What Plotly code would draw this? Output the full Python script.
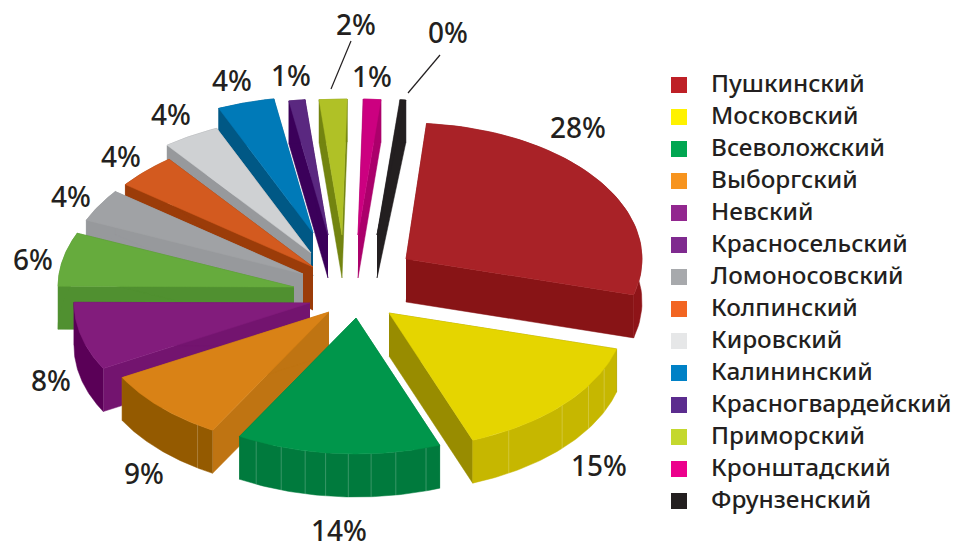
import numpy as np
import plotly.graph_objects as go

# --- data ---
districts = ["Пушкинский", "Московский", "Всеволожский", "Выборгский", "Невский",
             "Красносельский", "Ломоносовский", "Колпинский", "Кировский", "Калининский",
             "Красногвардейский", "Приморский", "Кронштадский", "Фрунзенский"]
shares = [27.9, 15.0, 14.0, 8.8, 8.1, 6.4, 3.9, 4.2, 3.9, 3.9, 1.1, 1.9, 1.2, 0.4]

# --- colours ---
legend_colors = ["#BE2026", "#FFF200", "#00A651", "#F7941E", "#92278F", "#7F2A8F", "#A7A9AC",
                 "#F26522", "#E6E7E8", "#0081C6", "#5B2C8E", "#C4D82E", "#EC008C", "#231F20"]
top_colors = ["#A92227", "#E5D500", "#00964B", "#D98216", "#821C7C", "#66AB3D", "#A0A2A5",
              "#D35A1F", "#CFD1D3", "#007AB8", "#5A2880", "#B0C126", "#CC0080", "#231F20"]
radial_colors = ["#881416", "#988C00", "#007A3D", "#BF7412", "#73146F", "#509030", "#97999C",
                 "#9B3C09", "#97999C", "#005885", "#3B005A", "#738410", "#AB006B", "#231F20"]
arc_colors = ["#8E1418", "#C6B700", "#007A3D", "#945A00", "#5A0057", "#509030", "#97999C",
              "#9B3C09", "#97999C", "#005885", "#3B005A", "#738410", "#AB006B", "#231F20"]

# --- layout of the exploded 3-D look (pixels) ---
apexes = [(406, 259), (389, 313), (356, 318), (329, 312), (310, 303), (294, 287), (303, 274),
          (313, 267), (311, 253), (313, 233), (328, 235), (342, 235), (358, 235), (377, 235)]
facet_fractions = [[], [0.166, 0.315, 0.51, 0.82], [0.07, 0.22, 0.34, 0.45, 0.56, 0.66, 0.78, 0.91],
                   [0.136], [], [], [], [], [], [], [], [], [], []]
RX, RY, DEPTH = 236, 136, 43
START_DEG = 5.0
FULL_TURN_DEG = 362.0
label_xy = [(578, 131), (599, 469), (339, 534), (144, 477), (51, 384), (33, 263), (71, 200),
            (121, 160), (171, 118), (232, 84), (291, 79), (356, 28), (372, 80), (448, 36)]
leaders = [((351, 41), (331, 89)), ((440, 55), (408, 93))]
LEGEND_SWATCH_X, LEGEND_TEXT_X, LEGEND_TOP, LEGEND_STEP = 679, 711, 85, 32

TEXT = "#231F20"
FONT = "Noto Sans"

fig = go.Figure()
total = sum(shares)


def poly(xs, ys, color):
    fig.add_trace(go.Scatter(x=list(xs), y=list(ys), mode="lines", fill="toself", fillcolor=color,
                             line=dict(color=color, width=0.5), hoverinfo="skip", showlegend=False))


sweeps = [v / total * FULL_TURN_DEG for v in shares]
starts = START_DEG + np.concatenate([[0], np.cumsum(sweeps)[:-1]])

# painted from the last district back to the first, so each slice covers its neighbour's wall
for i in range(len(shares) - 1, -1, -1):
    a0 = np.radians(starts[i])
    a1 = np.radians(starts[i] + sweeps[i])
    ax, ay = apexes[i]
    t = np.linspace(a0, a1, 60)
    ex = ax + RX * np.sin(t)
    ey = ay - RY * np.cos(t)
    # radial walls
    poly([ax, ex[0], ex[0], ax], [ay, ey[0], ey[0] + DEPTH, ay + DEPTH], radial_colors[i])
    poly([ax, ex[-1], ex[-1], ax], [ay, ey[-1], ey[-1] + DEPTH, ay + DEPTH], radial_colors[i])
    # outer wall
    poly(list(ex) + list(ex[::-1]), list(ey) + list(ey[::-1] + DEPTH), arc_colors[i])
    # facet lines on visible outer wall
    if facet_fractions[i]:
        fx, fy = [], []
        for f in facet_fractions[i]:
            a = a0 + f * (a1 - a0)
            px, py = ax + RX * np.sin(a), ay - RY * np.cos(a)
            fx += [px, px, None]
            fy += [py, py + DEPTH, None]
        fig.add_trace(go.Scatter(x=fx, y=fy, mode="lines", hoverinfo="skip", showlegend=False,
                                 line=dict(color="rgba(255,255,255,0.28)", width=0.8)))
    # top face
    poly([ax] + list(ex) + [ax], [ay] + list(ey) + [ay], top_colors[i])

# leader lines
for (p, q) in leaders:
    fig.add_trace(go.Scatter(x=[p[0], q[0]], y=[p[1], q[1]], mode="lines", hoverinfo="skip",
                             showlegend=False, line=dict(color=TEXT, width=1.2)))

# percent labels
fig.add_trace(go.Scatter(x=[p[0] for p in label_xy], y=[p[1] for p in label_xy], mode="text",
                         text=[f"{round(v)}%" for v in shares], textposition="middle center",
                         textfont=dict(family=FONT, size=28, color=TEXT, weight=500),
                         cliponaxis=False, hoverinfo="skip", showlegend=False))

# key: swatch and name per district
rows = [LEGEND_TOP + k * LEGEND_STEP for k in range(len(districts))]
fig.add_trace(go.Scatter(x=[LEGEND_SWATCH_X] * len(rows), y=rows, mode="markers",
                         marker=dict(symbol="square", size=16, color=legend_colors),
                         hoverinfo="skip", showlegend=False))
fig.add_trace(go.Scatter(x=[LEGEND_TEXT_X] * len(rows), y=[r + 1 for r in rows], mode="text", text=districts,
                         textposition="middle right", cliponaxis=False,
                         textfont=dict(family=FONT, size=24.3, color=TEXT, weight=500),
                         hoverinfo="skip", showlegend=False))

fig.update_layout(
    width=956, height=546, margin=dict(l=0, r=0, t=0, b=0),
    paper_bgcolor="white", plot_bgcolor="white", showlegend=False,
    xaxis=dict(range=[0, 956], visible=False, fixedrange=True),
    yaxis=dict(range=[546, 0], visible=False, fixedrange=True),
)
fig.write_html("out.html", config={"displayModeBar": False},
               post_script="document.body.style.margin='0';document.documentElement.style.overflow='hidden';")
